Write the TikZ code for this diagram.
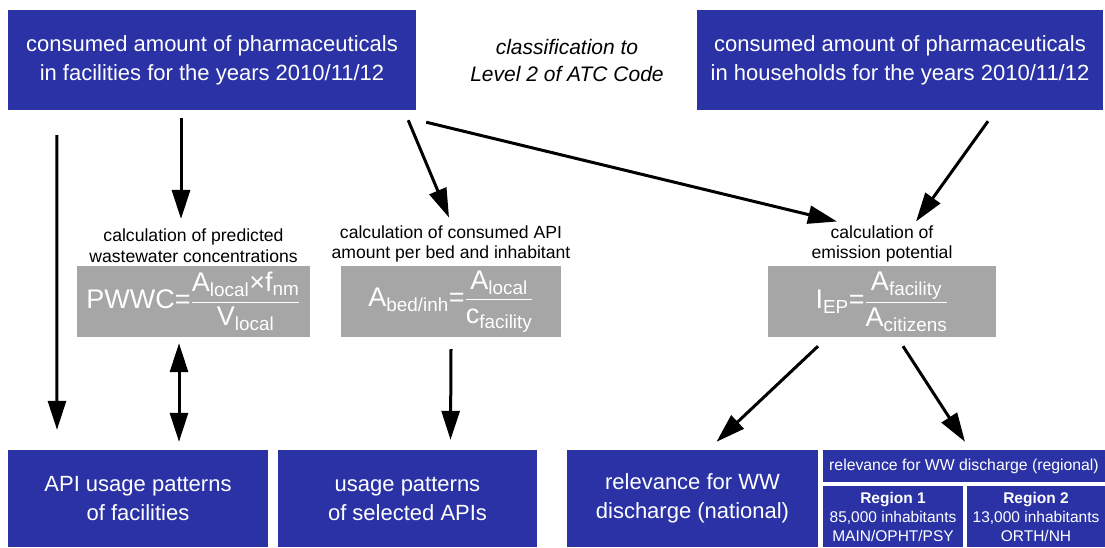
\documentclass[tikz,border=0pt]{standalone}
\usepackage{amsmath}
\usepackage{fontspec}
\setmainfont{Liberation Sans}
\usetikzlibrary{arrows.meta,calc,positioning}
\definecolor{boxblue}{RGB}{42,50,166}
\definecolor{calcgray}{RGB}{166,166,166}

\begin{document}
\begin{tikzpicture}[x=1pt,y=-1pt,
  bluebox/.style={fill=boxblue,text=white,align=center,inner sep=0pt,font=\fontsize{22}{29}\selectfont},
  graybox/.style={fill=calcgray,text=white,inner sep=0pt,minimum height=71,font=\fontsize{27}{32}\selectfont},
  calclabel/.style={align=center,inner sep=2pt,font=\fontsize{17.6}{20.5}\selectfont},
  regbox/.style={fill=boxblue,text=white,align=center,inner sep=0pt,font=\fontsize{15.5}{19}\selectfont},
  arr/.style={line width=3pt,-{Triangle[length=29pt,width=18pt]}},
  dblarr/.style={line width=3pt,{Triangle[length=29pt,width=18pt]}-{Triangle[length=29pt,width=18pt]}},
]
\useasboundingbox (0,0) rectangle (1105,547);
% input data
\node[bluebox,minimum width=408,minimum height=100] (facil) at (212,60)
  {consumed amount of pharmaceuticals\\in facilities for the years 2010/11/12};
\node[bluebox,minimum width=406,minimum height=100] (house) at (900,60)
  {consumed amount of pharmaceuticals\\in households for the years 2010/11/12};
\node[align=center,font=\itshape\fontsize{21}{27}\selectfont] (atc) at (567,60)
  {classification to\\Level 2 of ATC Code};
% calculations
\node[graybox,minimum width=233] (gray1) at (193.5,301.5)
  {PWWC=$\dfrac{\mbox{A\textsubscript{local}×f\textsubscript{nm}}}{\mbox{V\textsubscript{local}}}$};
\node[graybox,minimum width=220] (gray2) at (451,301.5)
  {A\textsubscript{bed/inh}=$\dfrac{\mbox{A\textsubscript{local}}}{\mbox{c\textsubscript{facility}}}$};
\node[graybox,minimum width=228] (gray3) at (882,301.5)
  {I\textsubscript{EP}=$\dfrac{\mbox{A\textsubscript{facility}}}{\mbox{A\textsubscript{citizens}}}$};
\node[calclabel,above=1pt of gray1] (lab1) {calculation of predicted\\wastewater concentrations};
\node[calclabel,above=1pt of gray2] (lab2) {calculation of consumed API\\amount per bed and inhabitant};
\node[calclabel,above=1pt of gray3] (lab3) {calculation of\\emission potential};
% results
\node[bluebox,minimum width=260,minimum height=97] (usage1) at (138,498.5)
  {API usage patterns\\of facilities};
\node[bluebox,minimum width=259,minimum height=97] (usage2) at (407.5,498.5)
  {usage patterns\\of selected APIs};
\node[bluebox,minimum width=251,minimum height=97] (natl) at (692.5,498.5)
  {relevance for WW\\discharge (national)};
\node[regbox,minimum width=282,minimum height=32,font=\fontsize{15.8}{19}\selectfont] (header) at (964,466)
  {relevance for WW discharge (regional)};
\node[regbox,minimum width=140,minimum height=61] (reg1) at (893,516.5)
  {\textbf{Region 1}\\85,000 inhabitants\\MAIN/OPHT/PSY};
\node[regbox,minimum width=138,minimum height=61] (reg2) at (1036,516.5)
  {\textbf{Region 2}\\13,000 inhabitants\\ORTH/NH};
% arrows
\draw[arr] ([xshift=49pt,yshift=-25pt]facil.south west) -- ([xshift=-81pt,yshift=20pt]usage1.north);
\draw[arr] ([xshift=-31pt,yshift=-8pt]facil.south) -- ([xshift=-12.5pt,yshift=8pt]lab1.north);
\draw[arr] ([xshift=-8pt,yshift=-10pt]facil.south east) -- ([xshift=-2pt,yshift=6pt]lab2.north);
\draw[arr] ([xshift=10pt,yshift=-12pt]facil.south east) -- ([xshift=-45pt,yshift=2pt]lab3.north);
\draw[arr] ([xshift=88pt,yshift=-11pt]house.south) -- ([xshift=34pt,yshift=2pt]lab3.north);
\draw[dblarr] ([xshift=-14.5pt,yshift=-6pt]gray1.south) -- ([xshift=41pt,yshift=8pt]usage1.north);
\draw[arr] ([yshift=-12pt]gray2.south) -- ([xshift=43pt,yshift=10pt]usage2.north);
\draw[arr] ([xshift=-64pt,yshift=-9pt]gray3.south) -- ([xshift=24pt,yshift=8pt]natl.north);
\draw[arr] ([xshift=21pt,yshift=-9pt]gray3.south) -- ([xshift=1pt,yshift=8pt]header.north);
\end{tikzpicture}
\end{document}
